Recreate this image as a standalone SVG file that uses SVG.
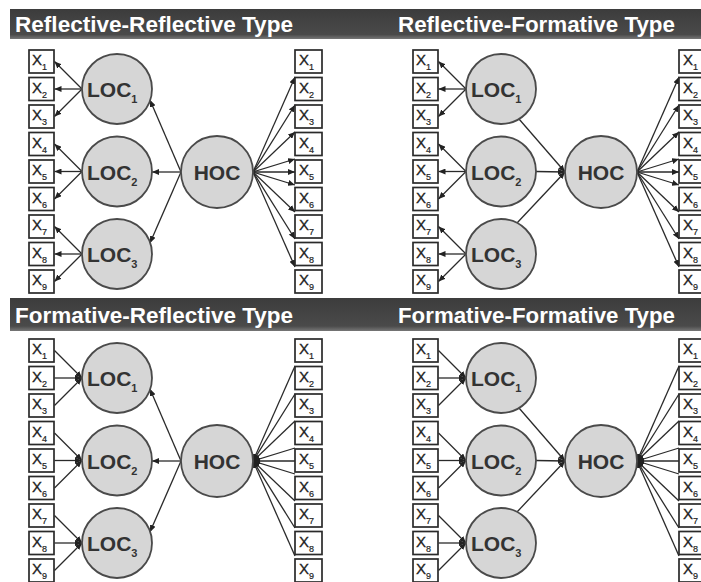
<svg xmlns="http://www.w3.org/2000/svg" width="701" height="582" viewBox="0 0 701 582">
<defs>
<linearGradient id="hg" x1="0" y1="0" x2="0" y2="1">
<stop offset="0" stop-color="#3c3c3c"/><stop offset="0.85" stop-color="#4a4a4a"/><stop offset="1" stop-color="#777"/>
</linearGradient>
<marker id="ah" viewBox="0 0 7 6" refX="7" refY="3" markerWidth="7" markerHeight="6" markerUnits="userSpaceOnUse" orient="auto"><path d="M0,0 L7,3 L0,6 z" fill="#222"/></marker>
</defs>
<style>
.hb{fill:url(#hg)}
.ht{font-family:"Liberation Sans",Arial,sans-serif;font-weight:bold;font-size:22px;fill:#fff}
.b{fill:#fff;stroke:#2a2a2a;stroke-width:1.7}
.x{font-family:"Liberation Sans",Arial,sans-serif;font-size:15px;fill:#222;stroke:#222;stroke-width:0.3}
.s{font-size:9px;stroke-width:0.2}
.lv{fill:#d6d6d6;stroke:#4a4a4a;stroke-width:1.8}
.lt{font-family:"Liberation Sans",Arial,sans-serif;font-weight:bold;font-size:21px;fill:#333}
.ls{font-size:11px}
.conn line{stroke:#2a2a2a;stroke-width:1.3;marker-end:url(#ah)}
</style>
<rect width="701" height="582" fill="#fff"/>
<g id="headers">
<rect class="hb" x="10" y="9" width="691" height="30"/>
<text class="ht" x="15" y="32" textLength="278" lengthAdjust="spacingAndGlyphs">Reflective-Reflective Type</text>
<text class="ht" x="398" y="32" textLength="277" lengthAdjust="spacingAndGlyphs">Reflective-Formative Type</text>
<rect class="hb" x="10" y="298" width="691" height="33"/>
<text class="ht" x="15" y="323" textLength="278" lengthAdjust="spacingAndGlyphs">Formative-Reflective Type</text>
<text class="ht" x="398" y="323" textLength="277" lengthAdjust="spacingAndGlyphs">Formative-Formative Type</text>
</g>

<!-- Panel 1: Reflective-Reflective -->
<g id="rr" transform="translate(0,0)">
<g class="conn" id="rr-connectors">
<line x1="82" y1="89" x2="54.5" y2="61.5"/><line x1="82" y1="89" x2="54.5" y2="89"/><line x1="82" y1="89" x2="54.5" y2="116.5"/>
<line x1="82" y1="171.5" x2="54.5" y2="144"/><line x1="82" y1="171.5" x2="54.5" y2="171.5"/><line x1="82" y1="171.5" x2="54.5" y2="199"/>
<line x1="82" y1="254" x2="54.5" y2="226.5"/><line x1="82" y1="254" x2="54.5" y2="254"/><line x1="82" y1="254" x2="54.5" y2="281.5"/>
<line x1="181" y1="172" x2="150" y2="100"/><line x1="181" y1="172" x2="152" y2="172"/><line x1="181" y1="172" x2="150" y2="243"/>
<line x1="253" y1="172" x2="295" y2="77"/><line x1="253" y1="172" x2="295" y2="105"/><line x1="253" y1="172" x2="295" y2="132"/><line x1="253" y1="172" x2="295" y2="159"/><line x1="253" y1="172" x2="295" y2="172"/><line x1="253" y1="172" x2="295" y2="185"/><line x1="253" y1="172" x2="295" y2="212"/><line x1="253" y1="172" x2="295" y2="239"/><line x1="253" y1="172" x2="295" y2="267"/>
</g>
<g id="rr-lx1"><rect class="b" x="29" y="50" width="25" height="23"/><text class="x" x="32" y="65">X<tspan class="s" dy="5">1</tspan></text></g>
<g id="rr-lx2"><rect class="b" x="29" y="77.5" width="25" height="23"/><text class="x" x="32" y="92.5">X<tspan class="s" dy="5">2</tspan></text></g>
<g id="rr-lx3"><rect class="b" x="29" y="105" width="25" height="23"/><text class="x" x="32" y="120">X<tspan class="s" dy="5">3</tspan></text></g>
<g id="rr-lx4"><rect class="b" x="29" y="132.5" width="25" height="23"/><text class="x" x="32" y="147.5">X<tspan class="s" dy="5">4</tspan></text></g>
<g id="rr-lx5"><rect class="b" x="29" y="160" width="25" height="23"/><text class="x" x="32" y="175">X<tspan class="s" dy="5">5</tspan></text></g>
<g id="rr-lx6"><rect class="b" x="29" y="187.5" width="25" height="23"/><text class="x" x="32" y="202.5">X<tspan class="s" dy="5">6</tspan></text></g>
<g id="rr-lx7"><rect class="b" x="29" y="215" width="25" height="23"/><text class="x" x="32" y="230">X<tspan class="s" dy="5">7</tspan></text></g>
<g id="rr-lx8"><rect class="b" x="29" y="242.5" width="25" height="23"/><text class="x" x="32" y="257.5">X<tspan class="s" dy="5">8</tspan></text></g>
<g id="rr-lx9"><rect class="b" x="29" y="270" width="25" height="23"/><text class="x" x="32" y="285">X<tspan class="s" dy="5">9</tspan></text></g>
<g id="rr-loc1"><circle class="lv" cx="117" cy="89" r="35"/><text class="lt" x="87" y="97">LOC<tspan class="ls" dy="6">1</tspan></text></g>
<g id="rr-loc2"><circle class="lv" cx="117" cy="171.5" r="35"/><text class="lt" x="87" y="179.5">LOC<tspan class="ls" dy="6">2</tspan></text></g>
<g id="rr-loc3"><circle class="lv" cx="117" cy="254" r="35"/><text class="lt" x="87" y="262">LOC<tspan class="ls" dy="6">3</tspan></text></g>
<g id="rr-hoc"><circle class="lv" cx="217" cy="172" r="36"/><text class="lt" x="217" y="180" text-anchor="middle">HOC</text></g>
<g id="rr-rx1"><rect class="b" x="295" y="50" width="27" height="23"/><text class="x" x="299" y="65">X<tspan class="s" dy="5">1</tspan></text></g>
<g id="rr-rx2"><rect class="b" x="295" y="77.5" width="27" height="23"/><text class="x" x="299" y="92.5">X<tspan class="s" dy="5">2</tspan></text></g>
<g id="rr-rx3"><rect class="b" x="295" y="105" width="27" height="23"/><text class="x" x="299" y="120">X<tspan class="s" dy="5">3</tspan></text></g>
<g id="rr-rx4"><rect class="b" x="295" y="132.5" width="27" height="23"/><text class="x" x="299" y="147.5">X<tspan class="s" dy="5">4</tspan></text></g>
<g id="rr-rx5"><rect class="b" x="295" y="160" width="27" height="23"/><text class="x" x="299" y="175">X<tspan class="s" dy="5">5</tspan></text></g>
<g id="rr-rx6"><rect class="b" x="295" y="187.5" width="27" height="23"/><text class="x" x="299" y="202.5">X<tspan class="s" dy="5">6</tspan></text></g>
<g id="rr-rx7"><rect class="b" x="295" y="215" width="27" height="23"/><text class="x" x="299" y="230">X<tspan class="s" dy="5">7</tspan></text></g>
<g id="rr-rx8"><rect class="b" x="295" y="242.5" width="27" height="23"/><text class="x" x="299" y="257.5">X<tspan class="s" dy="5">8</tspan></text></g>
<g id="rr-rx9"><rect class="b" x="295" y="270" width="27" height="23"/><text class="x" x="299" y="285">X<tspan class="s" dy="5">9</tspan></text></g>
</g>

<!-- Panel 2: Reflective-Formative -->
<g id="rf" transform="translate(384,0)">
<g class="conn" id="rf-connectors">
<line x1="82" y1="89" x2="54.5" y2="61.5"/><line x1="82" y1="89" x2="54.5" y2="89"/><line x1="82" y1="89" x2="54.5" y2="116.5"/>
<line x1="82" y1="171.5" x2="54.5" y2="144"/><line x1="82" y1="171.5" x2="54.5" y2="171.5"/><line x1="82" y1="171.5" x2="54.5" y2="199"/>
<line x1="82" y1="254" x2="54.5" y2="226.5"/><line x1="82" y1="254" x2="54.5" y2="254"/><line x1="82" y1="254" x2="54.5" y2="281.5"/>
<line x1="135" y1="119" x2="181" y2="172"/><line x1="152" y1="171.5" x2="181" y2="172"/><line x1="133" y1="223" x2="181" y2="172"/>
<line x1="253" y1="172" x2="295" y2="77"/><line x1="253" y1="172" x2="295" y2="105"/><line x1="253" y1="172" x2="295" y2="132"/><line x1="253" y1="172" x2="295" y2="159"/><line x1="253" y1="172" x2="295" y2="172"/><line x1="253" y1="172" x2="295" y2="185"/><line x1="253" y1="172" x2="295" y2="212"/><line x1="253" y1="172" x2="295" y2="239"/><line x1="253" y1="172" x2="295" y2="267"/>
</g>
<g id="rf-lx1"><rect class="b" x="29" y="50" width="25" height="23"/><text class="x" x="32" y="65">X<tspan class="s" dy="5">1</tspan></text></g>
<g id="rf-lx2"><rect class="b" x="29" y="77.5" width="25" height="23"/><text class="x" x="32" y="92.5">X<tspan class="s" dy="5">2</tspan></text></g>
<g id="rf-lx3"><rect class="b" x="29" y="105" width="25" height="23"/><text class="x" x="32" y="120">X<tspan class="s" dy="5">3</tspan></text></g>
<g id="rf-lx4"><rect class="b" x="29" y="132.5" width="25" height="23"/><text class="x" x="32" y="147.5">X<tspan class="s" dy="5">4</tspan></text></g>
<g id="rf-lx5"><rect class="b" x="29" y="160" width="25" height="23"/><text class="x" x="32" y="175">X<tspan class="s" dy="5">5</tspan></text></g>
<g id="rf-lx6"><rect class="b" x="29" y="187.5" width="25" height="23"/><text class="x" x="32" y="202.5">X<tspan class="s" dy="5">6</tspan></text></g>
<g id="rf-lx7"><rect class="b" x="29" y="215" width="25" height="23"/><text class="x" x="32" y="230">X<tspan class="s" dy="5">7</tspan></text></g>
<g id="rf-lx8"><rect class="b" x="29" y="242.5" width="25" height="23"/><text class="x" x="32" y="257.5">X<tspan class="s" dy="5">8</tspan></text></g>
<g id="rf-lx9"><rect class="b" x="29" y="270" width="25" height="23"/><text class="x" x="32" y="285">X<tspan class="s" dy="5">9</tspan></text></g>
<g id="rf-loc1"><circle class="lv" cx="117" cy="89" r="35"/><text class="lt" x="87" y="97">LOC<tspan class="ls" dy="6">1</tspan></text></g>
<g id="rf-loc2"><circle class="lv" cx="117" cy="171.5" r="35"/><text class="lt" x="87" y="179.5">LOC<tspan class="ls" dy="6">2</tspan></text></g>
<g id="rf-loc3"><circle class="lv" cx="117" cy="254" r="35"/><text class="lt" x="87" y="262">LOC<tspan class="ls" dy="6">3</tspan></text></g>
<g id="rf-hoc"><circle class="lv" cx="217" cy="172" r="36"/><text class="lt" x="217" y="180" text-anchor="middle">HOC</text></g>
<g id="rf-rx1"><rect class="b" x="295" y="50" width="27" height="23"/><text class="x" x="299" y="65">X<tspan class="s" dy="5">1</tspan></text></g>
<g id="rf-rx2"><rect class="b" x="295" y="77.5" width="27" height="23"/><text class="x" x="299" y="92.5">X<tspan class="s" dy="5">2</tspan></text></g>
<g id="rf-rx3"><rect class="b" x="295" y="105" width="27" height="23"/><text class="x" x="299" y="120">X<tspan class="s" dy="5">3</tspan></text></g>
<g id="rf-rx4"><rect class="b" x="295" y="132.5" width="27" height="23"/><text class="x" x="299" y="147.5">X<tspan class="s" dy="5">4</tspan></text></g>
<g id="rf-rx5"><rect class="b" x="295" y="160" width="27" height="23"/><text class="x" x="299" y="175">X<tspan class="s" dy="5">5</tspan></text></g>
<g id="rf-rx6"><rect class="b" x="295" y="187.5" width="27" height="23"/><text class="x" x="299" y="202.5">X<tspan class="s" dy="5">6</tspan></text></g>
<g id="rf-rx7"><rect class="b" x="295" y="215" width="27" height="23"/><text class="x" x="299" y="230">X<tspan class="s" dy="5">7</tspan></text></g>
<g id="rf-rx8"><rect class="b" x="295" y="242.5" width="27" height="23"/><text class="x" x="299" y="257.5">X<tspan class="s" dy="5">8</tspan></text></g>
<g id="rf-rx9"><rect class="b" x="295" y="270" width="27" height="23"/><text class="x" x="299" y="285">X<tspan class="s" dy="5">9</tspan></text></g>
</g>

<!-- Panel 3: Formative-Reflective -->
<g id="fr" transform="translate(0,289)">
<g class="conn" id="fr-connectors">
<line x1="54.5" y1="61.5" x2="82" y2="89"/><line x1="54.5" y1="89" x2="82" y2="89"/><line x1="54.5" y1="116.5" x2="82" y2="89"/>
<line x1="54.5" y1="144" x2="82" y2="171.5"/><line x1="54.5" y1="171.5" x2="82" y2="171.5"/><line x1="54.5" y1="199" x2="82" y2="171.5"/>
<line x1="54.5" y1="226.5" x2="82" y2="254"/><line x1="54.5" y1="254" x2="82" y2="254"/><line x1="54.5" y1="281.5" x2="82" y2="254"/>
<line x1="181" y1="172" x2="150" y2="100"/><line x1="181" y1="172" x2="152" y2="172"/><line x1="181" y1="172" x2="150" y2="243"/>
<line x1="295" y1="77" x2="253" y2="172"/><line x1="295" y1="105" x2="253" y2="172"/><line x1="295" y1="132" x2="253" y2="172"/><line x1="295" y1="159" x2="253" y2="172"/><line x1="295" y1="172" x2="253" y2="172"/><line x1="295" y1="185" x2="253" y2="172"/><line x1="295" y1="212" x2="253" y2="172"/><line x1="295" y1="239" x2="253" y2="172"/><line x1="295" y1="267" x2="253" y2="172"/>
</g>
<g id="fr-lx1"><rect class="b" x="29" y="50" width="25" height="23"/><text class="x" x="32" y="65">X<tspan class="s" dy="5">1</tspan></text></g>
<g id="fr-lx2"><rect class="b" x="29" y="77.5" width="25" height="23"/><text class="x" x="32" y="92.5">X<tspan class="s" dy="5">2</tspan></text></g>
<g id="fr-lx3"><rect class="b" x="29" y="105" width="25" height="23"/><text class="x" x="32" y="120">X<tspan class="s" dy="5">3</tspan></text></g>
<g id="fr-lx4"><rect class="b" x="29" y="132.5" width="25" height="23"/><text class="x" x="32" y="147.5">X<tspan class="s" dy="5">4</tspan></text></g>
<g id="fr-lx5"><rect class="b" x="29" y="160" width="25" height="23"/><text class="x" x="32" y="175">X<tspan class="s" dy="5">5</tspan></text></g>
<g id="fr-lx6"><rect class="b" x="29" y="187.5" width="25" height="23"/><text class="x" x="32" y="202.5">X<tspan class="s" dy="5">6</tspan></text></g>
<g id="fr-lx7"><rect class="b" x="29" y="215" width="25" height="23"/><text class="x" x="32" y="230">X<tspan class="s" dy="5">7</tspan></text></g>
<g id="fr-lx8"><rect class="b" x="29" y="242.5" width="25" height="23"/><text class="x" x="32" y="257.5">X<tspan class="s" dy="5">8</tspan></text></g>
<g id="fr-lx9"><rect class="b" x="29" y="270" width="25" height="23"/><text class="x" x="32" y="285">X<tspan class="s" dy="5">9</tspan></text></g>
<g id="fr-loc1"><circle class="lv" cx="117" cy="89" r="35"/><text class="lt" x="87" y="97">LOC<tspan class="ls" dy="6">1</tspan></text></g>
<g id="fr-loc2"><circle class="lv" cx="117" cy="171.5" r="35"/><text class="lt" x="87" y="179.5">LOC<tspan class="ls" dy="6">2</tspan></text></g>
<g id="fr-loc3"><circle class="lv" cx="117" cy="254" r="35"/><text class="lt" x="87" y="262">LOC<tspan class="ls" dy="6">3</tspan></text></g>
<g id="fr-hoc"><circle class="lv" cx="217" cy="172" r="36"/><text class="lt" x="217" y="180" text-anchor="middle">HOC</text></g>
<g id="fr-rx1"><rect class="b" x="295" y="50" width="27" height="23"/><text class="x" x="299" y="65">X<tspan class="s" dy="5">1</tspan></text></g>
<g id="fr-rx2"><rect class="b" x="295" y="77.5" width="27" height="23"/><text class="x" x="299" y="92.5">X<tspan class="s" dy="5">2</tspan></text></g>
<g id="fr-rx3"><rect class="b" x="295" y="105" width="27" height="23"/><text class="x" x="299" y="120">X<tspan class="s" dy="5">3</tspan></text></g>
<g id="fr-rx4"><rect class="b" x="295" y="132.5" width="27" height="23"/><text class="x" x="299" y="147.5">X<tspan class="s" dy="5">4</tspan></text></g>
<g id="fr-rx5"><rect class="b" x="295" y="160" width="27" height="23"/><text class="x" x="299" y="175">X<tspan class="s" dy="5">5</tspan></text></g>
<g id="fr-rx6"><rect class="b" x="295" y="187.5" width="27" height="23"/><text class="x" x="299" y="202.5">X<tspan class="s" dy="5">6</tspan></text></g>
<g id="fr-rx7"><rect class="b" x="295" y="215" width="27" height="23"/><text class="x" x="299" y="230">X<tspan class="s" dy="5">7</tspan></text></g>
<g id="fr-rx8"><rect class="b" x="295" y="242.5" width="27" height="23"/><text class="x" x="299" y="257.5">X<tspan class="s" dy="5">8</tspan></text></g>
<g id="fr-rx9"><rect class="b" x="295" y="270" width="27" height="23"/><text class="x" x="299" y="285">X<tspan class="s" dy="5">9</tspan></text></g>
</g>

<!-- Panel 4: Formative-Formative -->
<g id="ff" transform="translate(384,289)">
<g class="conn" id="ff-connectors">
<line x1="54.5" y1="61.5" x2="82" y2="89"/><line x1="54.5" y1="89" x2="82" y2="89"/><line x1="54.5" y1="116.5" x2="82" y2="89"/>
<line x1="54.5" y1="144" x2="82" y2="171.5"/><line x1="54.5" y1="171.5" x2="82" y2="171.5"/><line x1="54.5" y1="199" x2="82" y2="171.5"/>
<line x1="54.5" y1="226.5" x2="82" y2="254"/><line x1="54.5" y1="254" x2="82" y2="254"/><line x1="54.5" y1="281.5" x2="82" y2="254"/>
<line x1="135" y1="119" x2="181" y2="172"/><line x1="152" y1="171.5" x2="181" y2="172"/><line x1="133" y1="223" x2="181" y2="172"/>
<line x1="295" y1="77" x2="253" y2="172"/><line x1="295" y1="105" x2="253" y2="172"/><line x1="295" y1="132" x2="253" y2="172"/><line x1="295" y1="159" x2="253" y2="172"/><line x1="295" y1="172" x2="253" y2="172"/><line x1="295" y1="185" x2="253" y2="172"/><line x1="295" y1="212" x2="253" y2="172"/><line x1="295" y1="239" x2="253" y2="172"/><line x1="295" y1="267" x2="253" y2="172"/>
</g>
<g id="ff-lx1"><rect class="b" x="29" y="50" width="25" height="23"/><text class="x" x="32" y="65">X<tspan class="s" dy="5">1</tspan></text></g>
<g id="ff-lx2"><rect class="b" x="29" y="77.5" width="25" height="23"/><text class="x" x="32" y="92.5">X<tspan class="s" dy="5">2</tspan></text></g>
<g id="ff-lx3"><rect class="b" x="29" y="105" width="25" height="23"/><text class="x" x="32" y="120">X<tspan class="s" dy="5">3</tspan></text></g>
<g id="ff-lx4"><rect class="b" x="29" y="132.5" width="25" height="23"/><text class="x" x="32" y="147.5">X<tspan class="s" dy="5">4</tspan></text></g>
<g id="ff-lx5"><rect class="b" x="29" y="160" width="25" height="23"/><text class="x" x="32" y="175">X<tspan class="s" dy="5">5</tspan></text></g>
<g id="ff-lx6"><rect class="b" x="29" y="187.5" width="25" height="23"/><text class="x" x="32" y="202.5">X<tspan class="s" dy="5">6</tspan></text></g>
<g id="ff-lx7"><rect class="b" x="29" y="215" width="25" height="23"/><text class="x" x="32" y="230">X<tspan class="s" dy="5">7</tspan></text></g>
<g id="ff-lx8"><rect class="b" x="29" y="242.5" width="25" height="23"/><text class="x" x="32" y="257.5">X<tspan class="s" dy="5">8</tspan></text></g>
<g id="ff-lx9"><rect class="b" x="29" y="270" width="25" height="23"/><text class="x" x="32" y="285">X<tspan class="s" dy="5">9</tspan></text></g>
<g id="ff-loc1"><circle class="lv" cx="117" cy="89" r="35"/><text class="lt" x="87" y="97">LOC<tspan class="ls" dy="6">1</tspan></text></g>
<g id="ff-loc2"><circle class="lv" cx="117" cy="171.5" r="35"/><text class="lt" x="87" y="179.5">LOC<tspan class="ls" dy="6">2</tspan></text></g>
<g id="ff-loc3"><circle class="lv" cx="117" cy="254" r="35"/><text class="lt" x="87" y="262">LOC<tspan class="ls" dy="6">3</tspan></text></g>
<g id="ff-hoc"><circle class="lv" cx="217" cy="172" r="36"/><text class="lt" x="217" y="180" text-anchor="middle">HOC</text></g>
<g id="ff-rx1"><rect class="b" x="295" y="50" width="27" height="23"/><text class="x" x="299" y="65">X<tspan class="s" dy="5">1</tspan></text></g>
<g id="ff-rx2"><rect class="b" x="295" y="77.5" width="27" height="23"/><text class="x" x="299" y="92.5">X<tspan class="s" dy="5">2</tspan></text></g>
<g id="ff-rx3"><rect class="b" x="295" y="105" width="27" height="23"/><text class="x" x="299" y="120">X<tspan class="s" dy="5">3</tspan></text></g>
<g id="ff-rx4"><rect class="b" x="295" y="132.5" width="27" height="23"/><text class="x" x="299" y="147.5">X<tspan class="s" dy="5">4</tspan></text></g>
<g id="ff-rx5"><rect class="b" x="295" y="160" width="27" height="23"/><text class="x" x="299" y="175">X<tspan class="s" dy="5">5</tspan></text></g>
<g id="ff-rx6"><rect class="b" x="295" y="187.5" width="27" height="23"/><text class="x" x="299" y="202.5">X<tspan class="s" dy="5">6</tspan></text></g>
<g id="ff-rx7"><rect class="b" x="295" y="215" width="27" height="23"/><text class="x" x="299" y="230">X<tspan class="s" dy="5">7</tspan></text></g>
<g id="ff-rx8"><rect class="b" x="295" y="242.5" width="27" height="23"/><text class="x" x="299" y="257.5">X<tspan class="s" dy="5">8</tspan></text></g>
<g id="ff-rx9"><rect class="b" x="295" y="270" width="27" height="23"/><text class="x" x="299" y="285">X<tspan class="s" dy="5">9</tspan></text></g>
</g>
</svg>
